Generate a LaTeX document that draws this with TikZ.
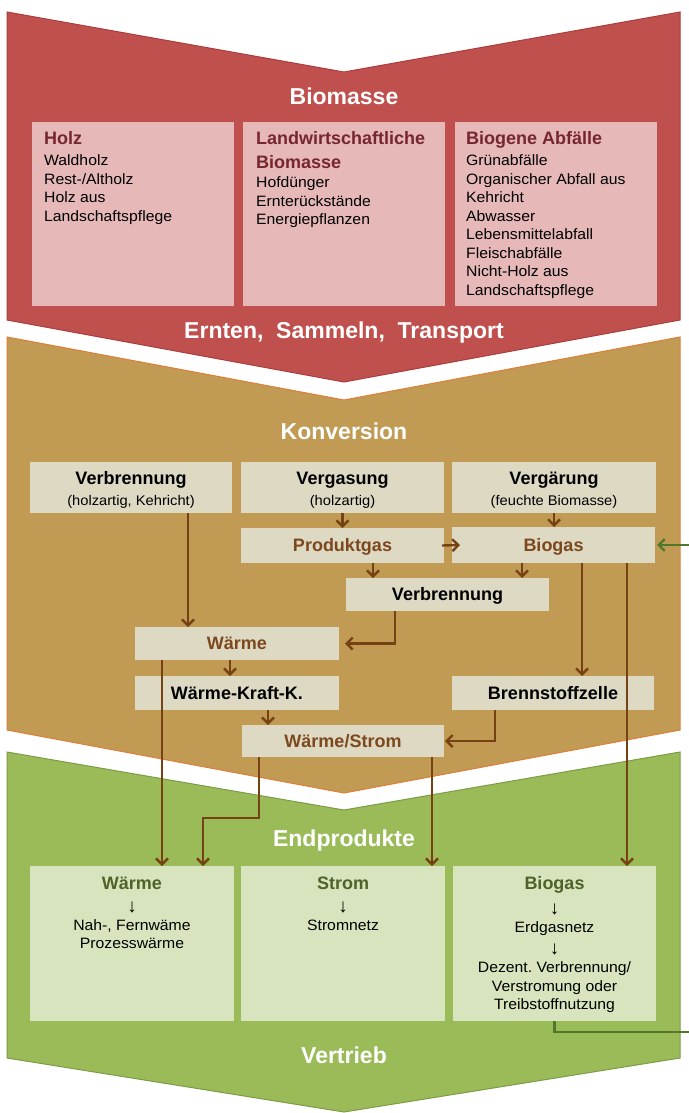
\documentclass[tikz,border=0pt]{standalone}
\usepackage{fontspec}
\setmainfont{Liberation Sans}
\newfontfamily\itemf[FakeStretch=1.05]{Liberation Sans}
\usetikzlibrary{arrows.meta}
\frenchspacing
\definecolor{redS}{RGB}{192,80,77}
\definecolor{redE}{RGB}{170,62,60}
\definecolor{redB}{RGB}{230,185,184}
\definecolor{redT}{RGB}{118,38,46}
\definecolor{tanS}{RGB}{193,155,84}
\definecolor{tanE}{RGB}{222,125,55}
\definecolor{tanB}{RGB}{221,217,195}
\definecolor{brownA}{RGB}{118,66,20}
\definecolor{brownT}{RGB}{125,72,30}
\definecolor{grnS}{RGB}{155,187,89}
\definecolor{grnE}{RGB}{125,155,70}
\definecolor{grnB}{RGB}{215,228,189}
\definecolor{grnT}{RGB}{79,98,40}
\definecolor{grnA}{RGB}{80,120,45}
\tikzset{
  box/.style={draw=none, inner sep=0pt, outer sep=0pt, text height=12.9pt, text depth=0pt},
  redbox/.style={box, fill=redB},
  tanbox/.style={box, fill=tanB},
  grnbox/.style={box, fill=grnB},
  sect/.style={font=\fontsize{23}{26}\selectfont\bfseries, text=white, inner sep=0pt, anchor=base},
  ttl/.style={font=\fontsize{18}{21}\selectfont\bfseries, inner sep=0pt},
  itm/.style={font=\itemf\fontsize{15}{18}\selectfont, inner sep=0pt},
  darr/.style={font=\fontsize{19}{20}\selectfont, inner sep=0pt, anchor=center},
  sub/.style={font=\itemf\fontsize{14}{17}\selectfont, inner sep=0pt, anchor=base},
  flow/.style={draw=brownA, line width=2.4pt, -{Straight Barb[length=6pt,width=12pt]}},
  gflow/.style={draw=grnA, line width=2.4pt, -{Straight Barb[length=6pt,width=12pt]}},
}
\begin{document}
\begin{tikzpicture}[x=1pt,y=-1pt]
\useasboundingbox (0,0) rectangle (688,1113);
\fill[white] (0,0) rectangle (688,1113);
% sections
\filldraw[fill=grnS, draw=grnE, line width=1pt] (7,752) -- (344,810) -- (680,752) -- (680,1058) -- (344,1112) -- (7,1058) -- cycle;
\filldraw[fill=tanS, draw=tanE, line width=1pt] (7,337) -- (344,400) -- (680,337) -- (680,730) -- (344,793) -- (7,730) -- cycle;
\filldraw[fill=redS, draw=redE, line width=1pt] (7,12) -- (344,72) -- (680,12) -- (680,320) -- (344,382) -- (7,320) -- cycle;
% section titles
\node[sect] (tBio) at (344,105) {Biomasse};
\node[sect] (tErn) at (344,338) {Ernten,~~Sammeln,~~Transport};
\node[sect] (tKon) at (344,439.5) {Konversion};
\node[sect] (tEnd) at (344,846) {Endprodukte};
\node[sect] (tVer) at (344,1063) {Vertrieb};
% red boxes
\node[redbox, minimum width=202pt, minimum height=184pt, anchor=north west] (rb1) at (32,122) {};
\node[redbox, minimum width=202pt, minimum height=184pt, anchor=north west] (rb2) at (243,122) {};
\node[redbox, minimum width=202pt, minimum height=184pt, anchor=north west] (rb3) at (455,122) {};
\node[ttl, text=redT, anchor=base west] (rt1) at (44,144.5) {Holz};
\node[ttl, text=redT, anchor=base west] (rt2) at (256,144.5) {Landwirtschaftliche};
\node[ttl, text=redT, anchor=base west] (rt2b) at (256,168.5) {Biomasse};
\node[ttl, text=redT, anchor=base west] (rt3) at (466,144.5) {Biogene Abfälle};
\foreach \t [count=\i] in {Waldholz, Rest-/Altholz, Holz aus, Landschaftspflege}
  \node[itm, anchor=base west] (ha\i) at (44,{165.5+18.5*(\i-1)}) {\t};
\foreach \t [count=\i] in {Hofdünger, Ernterückstände, Energiepflanzen}
  \node[itm, anchor=base west] (la\i) at (256,{187.5+18.5*(\i-1)}) {\t};
\foreach \t [count=\i] in {Grünabfälle, Organischer Abfall aus, Kehricht, Abwasser, Lebensmittelabfall, Fleischabfälle, Nicht-Holz aus, Landschaftspflege}
  \node[itm, anchor=base west] (ba\i) at (466,{165.5+18.5*(\i-1)}) {\t};
% tan boxes
\node[tanbox, minimum width=202pt, minimum height=51pt] (verb1) at (131,487.5) {};
\node[tanbox, minimum width=203pt, minimum height=51pt] (verg) at (342.5,487.5) {};
\node[tanbox, minimum width=204pt, minimum height=51pt] (vergae) at (554,487.5) {};
\node[ttl, anchor=base] (verb1t) at (131,484.5) {Verbrennung};
\node[sub] (verb1s) at (131,505) {(holzartig, Kehricht)};
\node[ttl, anchor=base] (vergt) at (342.5,484.5) {Vergasung};
\node[sub] (vergs) at (342.5,505) {(holzartig)};
\node[ttl, anchor=base] (vergaet) at (554,484.5) {Vergärung};
\node[sub] (vergaes) at (554,505) {(feuchte Biomasse)};
\node[tanbox, ttl, text=brownT, minimum width=203pt, minimum height=35pt] (prod) at (342.5,545.5) {Produktgas};
\node[tanbox, ttl, text=brownT, minimum width=203pt, minimum height=36pt] (biogas) at (553.5,545) {Biogas};
\node[tanbox, ttl, minimum width=203pt, minimum height=33pt] (verbB) at (447.5,594.5) {Verbrennung};
\node[tanbox, ttl, text=brownT, minimum width=204pt, minimum height=33pt] (waerme) at (237,643.5) {Wärme};
\node[tanbox, ttl, minimum width=204pt, minimum height=34pt] (wkk) at (237,693) {Wärme-Kraft-K.};
\node[tanbox, ttl, minimum width=202pt, minimum height=34pt] (bsz) at (553,693) {Brennstoffzelle};
\node[tanbox, ttl, text=brownT, minimum width=202pt, minimum height=32pt] (ws) at (343,741) {Wärme/Strom};
% green boxes
\node[grnbox, minimum width=204pt, minimum height=155pt, anchor=north west] (gw) at (30,866) {};
\node[grnbox, minimum width=204pt, minimum height=155pt, anchor=north west] (gs) at (241,866) {};
\node[grnbox, minimum width=203pt, minimum height=155pt, anchor=north west] (gb) at (453,866) {};
\node[ttl, text=grnT, anchor=base] (gwt) at (132,889) {Wärme};
\node[darr] (gwa) at (132,907) {↓};
\node[itm, anchor=base] (gw1) at (132,930) {Nah-, Fernwäme};
\node[itm, anchor=base] (gw2) at (132,948.5) {Prozesswärme};
\node[ttl, text=grnT, anchor=base] (gst) at (343,889) {Strom};
\node[darr] (gsa) at (343,907) {↓};
\node[itm, anchor=base] (gs1) at (343,930) {Stromnetz};
\node[ttl, text=grnT, anchor=base] (gbt) at (554.5,889) {Biogas};
\node[darr] (gba) at (554.5,909) {↓};
\node[itm, anchor=base] (gb1) at (554.5,932) {Erdgasnetz};
\node[darr] (gbb) at (554.5,949) {↓};
\node[itm, anchor=base] (gb2) at (554.5,972) {Dezent. Verbrennung/};
\node[itm, anchor=base] (gb3) at (554.5,991) {Verstromung oder};
\node[itm, anchor=base] (gb4) at (554.5,1009.5) {Treibstoffnutzung};
% connectors
\coordinate (c1) at ([xshift=57pt]verb1.south);
\draw[flow] (c1) -- (c1 |- waerme.north);
\draw[flow] (verg.south) -- (prod.north);
\draw[flow] (vergae.south) -- (vergae.south |- biogas.north);
\draw[flow] ([xshift=-2pt]prod.east) -- ([xshift=8pt]biogas.west);
\coordinate (c2) at ([xshift=30.5pt]prod.south);
\draw[flow] (c2) -- (c2 |- verbB.north);
\coordinate (c3) at ([xshift=-31.5pt]biogas.south);
\draw[flow] (c3) -- (c3 |- verbB.north);
\coordinate (c4) at ([xshift=-52.5pt]verbB.south);
\draw[flow] (c4) |- ([xshift=6pt]waerme.east);
\coordinate (c5) at ([xshift=-7pt]waerme.south);
\draw[flow] (c5) -- (c5 |- wkk.north);
\coordinate (c6) at ([xshift=31pt]wkk.south);
\draw[flow] (c6) -- (c6 |- ws.north);
\coordinate (c7) at ([xshift=-58pt]bsz.south);
\draw[flow] (c7) |- ([xshift=1pt]ws.east);
\coordinate (c8) at ([xshift=28.5pt]biogas.south);
\draw[flow] (c8) -- (c8 |- bsz.north);
\coordinate (c9) at ([xshift=73.5pt]biogas.south);
\draw[flow] (c9) -- (c9 |- gb.north);
\coordinate (c10) at ([xshift=-75pt]waerme.south);
\draw[flow] (c10) -- (c10 |- gw.north);
\coordinate (c11) at ([xshift=-84pt]ws.south);
\coordinate (c12) at ([xshift=71pt]gw.north);
\coordinate (k1) at (0,818);
\draw[flow] (c11) |- (c12 |- k1) -- (c12);
\coordinate (c13) at ([xshift=89pt]ws.south);
\draw[flow] (c13) -- (c13 |- gs.north);
\coordinate (g1) at (700,1032);
\draw[gflow] (gb.south) |- (g1) |- ([xshift=2pt]biogas.east);
\end{tikzpicture}
\end{document}
